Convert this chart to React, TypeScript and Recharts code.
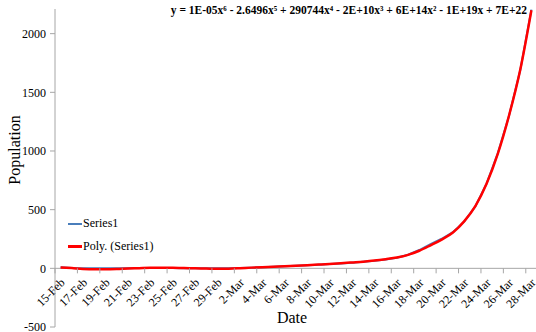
import React from "react";
import { LineChart, Line, XAxis, YAxis, ReferenceLine } from "recharts";

const dates = [
  "15-Feb", "16-Feb", "17-Feb", "18-Feb", "19-Feb", "20-Feb", "21-Feb", "22-Feb", "23-Feb", "24-Feb",
  "25-Feb", "26-Feb", "27-Feb", "28-Feb", "29-Feb", "1-Mar", "2-Mar", "3-Mar", "4-Mar", "5-Mar",
  "6-Mar", "7-Mar", "8-Mar", "9-Mar", "10-Mar", "11-Mar", "12-Mar", "13-Mar", "14-Mar", "15-Mar",
  "16-Mar", "17-Mar", "18-Mar", "19-Mar", "20-Mar", "21-Mar", "22-Mar", "23-Mar", "24-Mar", "25-Mar",
  "26-Mar", "27-Mar", "28-Mar",
];

const series1 = [
  10, 2, 0, 0, 0, 0, 1, 2, 3, 3,
  2, 1, 0, 0, 0, 1, 3, 5, 9, 13,
  17, 22, 27, 31, 36, 42, 48, 56, 64, 76,
  90, 116, 156, 206, 252, 308, 398, 528, 722, 980,
  1298, 1685, 2205,
];

const polyFit = [
  8, 2, -5, -8, -8, -6, -2, 1, 4, 5,
  4, 2, 0, -2, -4, -3, 1, 6, 10, 14,
  18, 23, 27, 32, 37, 43, 50, 57, 66, 78,
  92, 115, 150, 196, 245, 305, 400, 530, 720, 975,
  1300, 1690, 2200,
];

const yTicks = [-500, 0, 500, 1000, 1500, 2000];
const equation = "y = 1E-05x\u2076 - 2.6496x\u2075 + 290744x\u2074 - 2E+10x\u00B3 + 6E+14x\u00B2 - 1E+19x + 7E+22";

const data = dates.map((d, i) => ({ date: d, series1: series1[i], poly: polyFit[i] }));

// layout
const W = 540;
const X_H = 30;
const H = 332 + X_H;
const M = { top: 9, right: 3, bottom: 5, left: 0 };
const Y_W = 55;
const Y_MIN = -500;
const Y_MAX = 2210;
const PLOT_W = W - M.left - M.right - Y_W;
const PLOT_H = H - M.top - M.bottom - X_H;
const STEP = PLOT_W / dates.length;
const PAD = STEP / 2;
const ZERO_Y = M.top + (PLOT_H * Y_MAX) / (Y_MAX - Y_MIN);

const FONT = '"Liberation Serif", "Times New Roman", serif';
const AXIS = "#a6a6a6";

function DateTick({ x, payload }: any) {
  const ty = ZERO_Y + 12;
  return (
    <g>
      <line x1={x - PAD} x2={x - PAD} y1={ZERO_Y} y2={ZERO_Y + 5} stroke={AXIS} />
      <text
        x={x + 2}
        y={ty}
        textAnchor="end"
        fontSize={12}
        fontFamily={FONT}
        fill="#000"
        transform={`rotate(-45, ${x + 2}, ${ty})`}
        dy="0.35em"
      >
        {payload.value}
      </text>
    </g>
  );
}

function LegendRow({ color, w, label }: { color: string; w: number; label: string }) {
  return (
    <div style={{ display: "flex", alignItems: "center", height: 23 }}>
      <div style={{ width: 14, height: w, background: color, marginRight: 1 }} />
      <span style={{ fontFamily: FONT, fontSize: 12, color: "#000" }}>{label}</span>
    </div>
  );
}

export default function App() {
  return (
    <div
      style={{
        position: "absolute",
        left: 0,
        top: 0,
        width: 536,
        height: 332,
        overflow: "hidden",
        background: "#fff",
      }}
    >
      <LineChart width={W} height={H} data={data} margin={M}>
        <XAxis
          dataKey="date"
          height={X_H}
          axisLine={false}
          tickLine={false}
          interval={1}
          padding={{ left: PAD, right: PAD }}
          tick={<DateTick />}
        />
        <YAxis
          width={Y_W}
          domain={[Y_MIN, Y_MAX]}
          ticks={yTicks}
          interval={0}
          stroke={AXIS}
          tickSize={5}
          tickMargin={4}
          tick={{ fill: "#000", fontSize: 12, fontFamily: FONT }}
        />
        <ReferenceLine y={0} stroke={AXIS} />
        <Line
          type="linear"
          dataKey="series1"
          stroke="#4a7ebb"
          strokeWidth={2}
          dot={false}
          isAnimationActive={false}
        />
        <Line
          type="monotone"
          dataKey="poly"
          stroke="#ff0000"
          strokeWidth={2.5}
          dot={false}
          isAnimationActive={false}
        />
      </LineChart>
      <div style={{ position: "absolute", left: 68, top: 212 }}>
        <LegendRow color="#4a7ebb" w={2} label="Series1" />
        <LegendRow color="#ff0000" w={3} label="Poly. (Series1)" />
      </div>
      <div
        style={{
          position: "absolute",
          left: 15,
          top: 150,
          transform: "translate(-50%, -50%) rotate(-90deg)",
          fontFamily: FONT,
          fontSize: 16,
          whiteSpace: "nowrap",
        }}
      >
        Population
      </div>
      <div
        style={{
          position: "absolute",
          left: 292,
          top: 318,
          transform: "translate(-50%, -50%)",
          fontFamily: FONT,
          fontSize: 16,
        }}
      >
        Date
      </div>
      <div
        style={{
          position: "absolute",
          right: 9,
          top: 4,
          fontFamily: FONT,
          fontSize: 11.5,
          fontWeight: "bold",
          whiteSpace: "nowrap",
        }}
      >
        {equation}
      </div>
    </div>
  );
}
